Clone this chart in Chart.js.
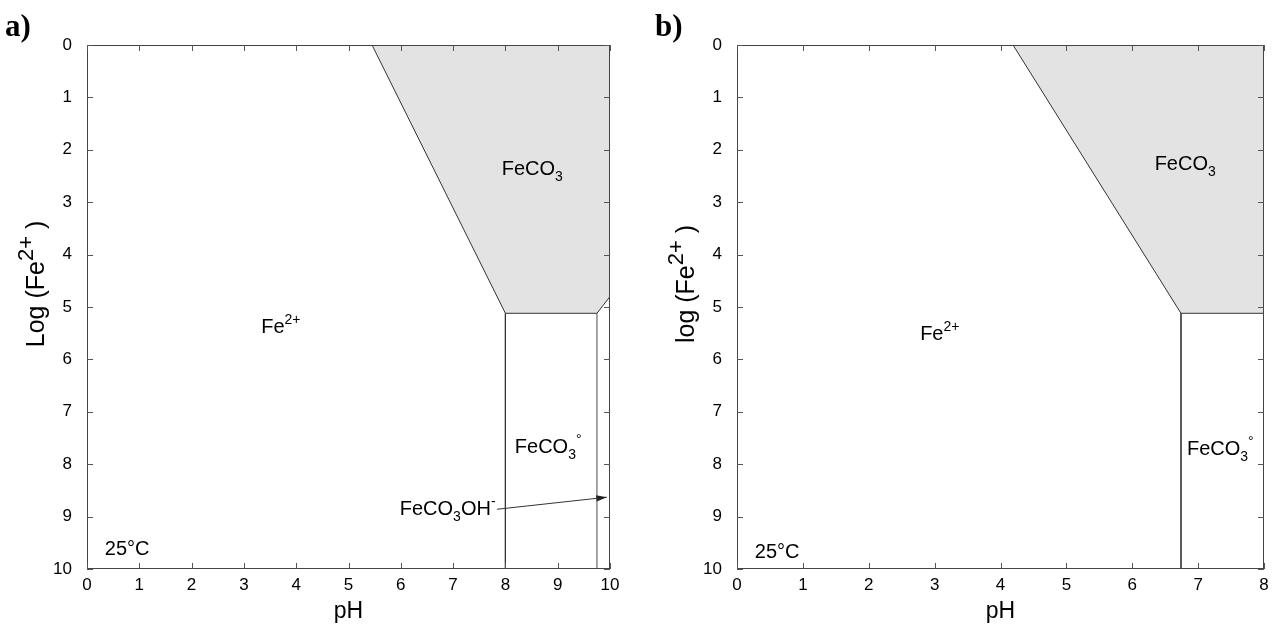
<!DOCTYPE html>
<html>
<head>
<meta charset="utf-8">
<script src="https://cdn.jsdelivr.net/npm/chart.js@4/dist/chart.umd.min.js"></script>
<style>
  body { margin: 0; background: #fff; }
  #wrap { position: relative; width: 1279px; height: 632px; }
  canvas { position: absolute; top: 0; }
</style>
</head>
<body>
<div id="wrap">
  <canvas id="chartA" width="640" height="632" style="left:0"></canvas>
  <canvas id="chartB" width="639" height="632" style="left:640px"></canvas>
</div>
<script>
// 座標軸刻度
const yTicks = [0, 1, 2, 3, 4, 5, 6, 7, 8, 9, 10];
const xTicksA = [0, 1, 2, 3, 4, 5, 6, 7, 8, 9, 10];
const xTicksB = [0, 1, 2, 3, 4, 5, 6, 7, 8];

// 圖 a) 相界線 (pH, log Fe2+)
const feco3BoundA = [[5.45, 0], [8.0, 5.12], [9.75, 5.12], [10, 4.8]];
const feco3aqLeftA = [[8.0, 5.12], [8.0, 10]];
const feco3ohLeftA = [[9.75, 5.12], [9.75, 10]];
const arrowA = [[7.84, 8.86], [9.94, 8.63]];

// 圖 b) 相界線
const feco3BoundB = [[4.19, 0], [6.74, 5.12], [8, 5.12]];
const feco3aqLeftB = [[6.74, 5.12], [6.74, 10]];

// 文字標籤 [片段, x, y]；片段: [文字, 'sub'|'sup'|'']
const labelsA = [
    [[['FeCO', ''], ['3', 'sub']], 7.93, 2.48],
    [[['Fe', ''], ['2+', 'sup']], 3.33, 5.50],
    [[['FeCO', ''], ['3', 'sub'], ['°', 'sup']], 8.18, 7.79],
    [[['FeCO', ''], ['3', 'sub'], ['OH', ''], ['-', 'sup']], 5.98, 8.97],
    [[['25°C', '']], 0.34, 9.74]
];
const labelsB = [
    [[['FeCO', ''], ['3', 'sub']], 6.34, 2.39],
    [[['Fe', ''], ['2+', 'sup']], 2.78, 5.63],
    [[['FeCO', ''], ['3', 'sub'], ['°', 'sup']], 6.83, 7.82],
    [[['25°C', '']], 0.27, 9.79]
];

const FONT = '"Liberation Sans", Arial, sans-serif';
const toPts = arr => arr.map(([x, y]) => ({ x: x, y: y }));

// 畫含上下標的文字
function richWidth(ctx, parts, size, supScale) {
    let w = 0;
    parts.forEach(([t, k]) => {
        ctx.font = `${k ? size * supScale : size}px ${FONT}`;
        w += ctx.measureText(t).width;
    });
    return w;
}
function drawRich(ctx, parts, x, y, size, supScale = 0.7) {
    let cx = x;
    parts.forEach(([t, k]) => {
        const s = k ? size * supScale : size;
        ctx.font = `${s}px ${FONT}`;
        let dy = 0;
        if (k === 'sub') dy = size * 0.3;
        if (k === 'sup') dy = -size * 0.45;
        ctx.fillText(t, cx, y + dy);
        cx += ctx.measureText(t).width;
    });
    return cx - x;
}

function makePlugin(panelLabel, labels, arrow, yTitleText, xTicks) {
    return {
        id: 'decor' + panelLabel,
        afterDatasetsDraw(chart) {
            const ctx = chart.ctx;
            const xs = chart.scales.x, ys = chart.scales.y;
            const a = chart.chartArea;
            ctx.save();
            // 外框
            ctx.strokeStyle = '#444';
            ctx.lineWidth = 1;
            ctx.strokeRect(a.left + 0.5, a.top + 0.5, a.right - a.left - 1, a.bottom - a.top - 1);
            // 內側刻度 (四邊)
            const tl = 6;
            ctx.strokeStyle = '#555';
            ctx.beginPath();
            yTicks.forEach(v => {
                const py = Math.round(ys.getPixelForValue(v)) + 0.5;
                ctx.moveTo(a.left, py); ctx.lineTo(a.left + tl, py);
                ctx.moveTo(a.right, py); ctx.lineTo(a.right - tl, py);
            });
            xTicks.forEach(v => {
                const px = Math.round(xs.getPixelForValue(v)) + 0.5;
                ctx.moveTo(px, a.bottom); ctx.lineTo(px, a.bottom - tl);
                ctx.moveTo(px, a.top); ctx.lineTo(px, a.top + tl);
            });
            ctx.stroke();
            // 標籤
            ctx.fillStyle = '#000';
            ctx.textBaseline = 'alphabetic';
            ctx.textAlign = 'left';
            labels.forEach(([parts, x, y]) => {
                drawRich(ctx, parts, xs.getPixelForValue(x), ys.getPixelForValue(y), 20);
            });
            // 箭頭
            if (arrow) {
                const x1 = xs.getPixelForValue(arrow[0][0]), y1 = ys.getPixelForValue(arrow[0][1]);
                const x2 = xs.getPixelForValue(arrow[1][0]), y2 = ys.getPixelForValue(arrow[1][1]);
                const ang = Math.atan2(y2 - y1, x2 - x1);
                ctx.fillStyle = '#222';
                ctx.beginPath();
                ctx.moveTo(x2, y2);
                ctx.lineTo(x2 - 11 * Math.cos(ang - 0.3), y2 - 11 * Math.sin(ang - 0.3));
                ctx.lineTo(x2 - 11 * Math.cos(ang + 0.3), y2 - 11 * Math.sin(ang + 0.3));
                ctx.closePath();
                ctx.fill();
            }
            // 軸標題
            ctx.fillStyle = '#000';
            ctx.font = `23px ${FONT}`;
            ctx.textAlign = 'center';
            ctx.fillText('pH', (a.left + a.right) / 2, 618);
            ctx.textAlign = 'left';
            ctx.save();
            const cy = 284;
            ctx.translate(a.left - 43, cy);
            ctx.rotate(-Math.PI / 2);
            const parts = [[yTitleText, ''], ['2+', 'sup'], [' )', '']];
            const w = richWidth(ctx, parts, 25, 0.88);
            drawRich(ctx, parts, -w / 2, 0, 25, 0.88);
            ctx.restore();
            // 面板標籤
            ctx.font = `bold 31px "Liberation Serif", "Times New Roman", serif`;
            ctx.fillStyle = '#000';
            ctx.fillText(panelLabel, a.left - 82, 36);
            ctx.restore();
        }
    };
}

function makeChart(id, xMax, xTicks, datasets, plugin, yWidth, rightPad) {
    return new Chart(document.getElementById(id), {
        type: 'scatter',
        data: { datasets: datasets },
        options: {
            responsive: false,
            animation: false,
            events: [],
            layout: { padding: { left: 0, right: rightPad, top: 45, bottom: 0 } },
            plugins: { legend: { display: false }, tooltip: { enabled: false } },
            elements: { point: { radius: 0 }, line: { tension: 0 } },
            scales: {
                x: {
                    type: 'linear', min: 0, max: xMax,
                    afterBuildTicks: s => { s.ticks = xTicks.map(v => ({ value: v })); },
                    afterFit: s => { s.height = 63; },
                    grid: { display: false, drawTicks: false },
                    border: { display: false },
                    ticks: { padding: 6, color: '#000', font: { family: FONT, size: 17 } }
                },
                y: {
                    type: 'linear', min: 0, max: 10, reverse: true,
                    afterBuildTicks: s => { s.ticks = yTicks.map(v => ({ value: v })); },
                    afterFit: s => { s.width = yWidth; },
                    grid: { display: false, drawTicks: false },
                    border: { display: false },
                    ticks: { padding: 15, color: '#000', font: { family: FONT, size: 17 } }
                }
            }
        },
        plugins: [plugin]
    });
}

makeChart('chartA', 10, xTicksA, [
    { data: toPts(feco3BoundA), showLine: true, fill: { value: 0 }, backgroundColor: '#e3e3e3', borderColor: '#333', borderWidth: 1 },
    { data: toPts(feco3aqLeftA), showLine: true, borderColor: '#333', borderWidth: 1 },
    { data: toPts(feco3ohLeftA), showLine: true, borderColor: '#888', borderWidth: 1.5 },
    { data: toPts(arrowA), showLine: true, borderColor: '#333', borderWidth: 1 }
], makePlugin('a)', labelsA, arrowA, 'Log (Fe', xTicksA), 87, 30);

makeChart('chartB', 8, xTicksB, [
    { data: toPts(feco3BoundB), showLine: true, fill: { value: 0 }, backgroundColor: '#e3e3e3', borderColor: '#333', borderWidth: 1 },
    { data: toPts(feco3aqLeftB), showLine: true, borderColor: '#444', borderWidth: 1 }
], makePlugin('b)', labelsB, null, 'log (Fe', xTicksB), 97, 15);
</script>
</body>
</html>
